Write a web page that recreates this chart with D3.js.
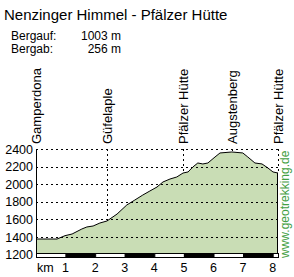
<!DOCTYPE html>
<html>
<head>
<meta charset="utf-8">
<script src="https://cdn.jsdelivr.net/npm/d3@7"></script>
<style>
  body { margin: 0; background: #fff; }
  text { font-family: "Liberation Sans", Arial, sans-serif; }
</style>
</head>
<body>
<div id="chart"></div>
<script>
// Profile: distance (km) and elevation (m)
const profileKm = [0, 0.71, 0.98, 1.22, 1.55, 1.72, 1.93, 2.16, 2.40, 2.74, 3.07, 3.34, 3.61, 3.85,
  4.09, 4.29, 4.53, 4.76, 4.97, 5.14, 5.30, 5.47, 5.64, 5.81, 6.05, 6.22, 6.62, 6.99, 7.16, 7.40,
  7.64, 7.84, 8.01, 8.18];
const profileElev = [1377, 1377, 1415, 1434, 1491, 1514, 1525, 1559, 1582, 1661, 1764, 1820, 1877, 1923,
  1968, 2025, 2059, 2082, 2127, 2139, 2195, 2241, 2230, 2241, 2309, 2355, 2366, 2355, 2309, 2241,
  2230, 2184, 2139, 2127];

// Waypoints
const waypointNames = ["Gamperdona", "Güfelaple", "Pfälzer Hütte", "Augstenberg", "Pfälzer Hütte"];
const waypointKm = [0, 2.40, 4.97, 6.62, 8.18];

const yTicks = [1200, 1400, 1600, 1800, 2000, 2200, 2400];
const kmTicks = [1, 2, 3, 4, 5, 6, 7, 8];

const title = "Nenzinger Himmel - Pfälzer Hütte";
const statLabels = ["Bergauf:", "Bergab:"];
const statValues = ["1003 m", "256 m"];

const width = 294, height = 277;
const data = profileKm.map((k, i) => ({ km: k, elev: profileElev[i] }));

const svg = d3.select("#chart").append("svg")
  .attr("width", width)
  .attr("height", height);

const x = d3.scaleLinear().domain([0, 8.18]).range([36, 278]);
const y = d3.scaleLinear().domain([1200, 2400]).range([254.6, 149]);

// elevation at a given km (for waypoint lines)
const elevAt = km => {
  const i = d3.bisector(d => d.km).left(data, km);
  if (i <= 0) return data[0].elev;
  if (i >= data.length) return data[data.length - 1].elev;
  const a = data[i - 1], b = data[i];
  return a.elev + (b.elev - a.elev) * (km - a.km) / (b.km - a.km);
};

// Title and stats
svg.append("text")
  .attr("x", 4).attr("y", 20)
  .attr("font-size", 15)
  .text(title);

statLabels.forEach((s, i) => {
  svg.append("text").attr("x", 11).attr("y", 40 + i * 13).attr("font-size", 12).text(s);
  svg.append("text").attr("x", 121).attr("y", 40 + i * 13).attr("font-size", 12)
    .attr("text-anchor", "end").text(statValues[i]);
});

// Area fill
svg.append("path")
  .datum(data)
  .attr("fill", "#c9ddb5")
  .attr("d", d3.area().x(d => x(d.km)).y0(y(1200)).y1(d => y(d.elev)));

// Horizontal grid lines
svg.selectAll(".grid")
  .data(yTicks.filter(t => t > 1200))
  .enter().append("line")
  .attr("x1", x(0)).attr("x2", x(8.18))
  .attr("y1", d => Math.round(y(d)) + 0.5).attr("y2", d => Math.round(y(d)) + 0.5)
  .attr("stroke", "#000").attr("stroke-dasharray", "2,3");

// Waypoint lines
svg.selectAll(".wp")
  .data(waypointKm)
  .enter().append("line")
  .attr("x1", d => Math.round(x(d)) + 0.5).attr("x2", d => Math.round(x(d)) + 0.5)
  .attr("y1", y(2400)).attr("y2", d => y(elevAt(d)))
  .attr("stroke", "#000").attr("stroke-dasharray", "2,3");

// Profile line
svg.append("path")
  .datum(data)
  .attr("fill", "none")
  .attr("stroke", "#000")
  .attr("d", d3.line().x(d => x(d.km)).y(d => y(d.elev)));

// left axis and right edge
svg.append("line")
  .attr("x1", 36.5).attr("x2", 36.5).attr("y1", y(2400)).attr("y2", y(1200))
  .attr("stroke", "#000");
svg.append("line")
  .attr("x1", x(8.18) - 0.5).attr("x2", x(8.18) - 0.5)
  .attr("y1", y(profileElev[profileElev.length - 1])).attr("y2", y(1200))
  .attr("stroke", "#000");

// Y tick labels
svg.selectAll(".ylab")
  .data(yTicks)
  .enter().append("text")
  .attr("x", 33).attr("y", d => y(d) + 4.5)
  .attr("text-anchor", "end")
  .attr("font-size", 12.5)
  .text(d => d);

// km strip
const segs = d3.range(0, 9).map(i => ({ a: i, b: Math.min(i + 1, 8.18) }));
svg.selectAll(".seg")
  .data(segs)
  .enter().append("rect")
  .attr("x", d => x(d.a) + 0.5)
  .attr("y", 253.5)
  .attr("width", d => x(d.b) - x(d.a))
  .attr("height", 4)
  .attr("fill", (d, i) => i % 2 ? "#000" : "#fff")
  .attr("stroke", "#000");

// km labels
svg.append("text").attr("x", 37).attr("y", 272).attr("font-size", 12.5).text("km");
svg.selectAll(".klab")
  .data(kmTicks)
  .enter().append("text")
  .attr("x", d => x(d)).attr("y", 272)
  .attr("text-anchor", "middle")
  .attr("font-size", 12.5)
  .text(d => d);

// Waypoint labels
svg.selectAll(".wplab")
  .data(waypointKm)
  .enter().append("text")
  .attr("transform", d => `translate(${Math.round(x(d)) + 5},144) rotate(-90)`)
  .attr("font-size", 13)
  .text((d, i) => waypointNames[i]);

// watermark
svg.append("text")
  .attr("transform", "translate(289,258) rotate(-90)")
  .attr("font-size", 12)
  .attr("fill", "#43a043")
  .text("www.geotrekking.de");
</script>
</body>
</html>
